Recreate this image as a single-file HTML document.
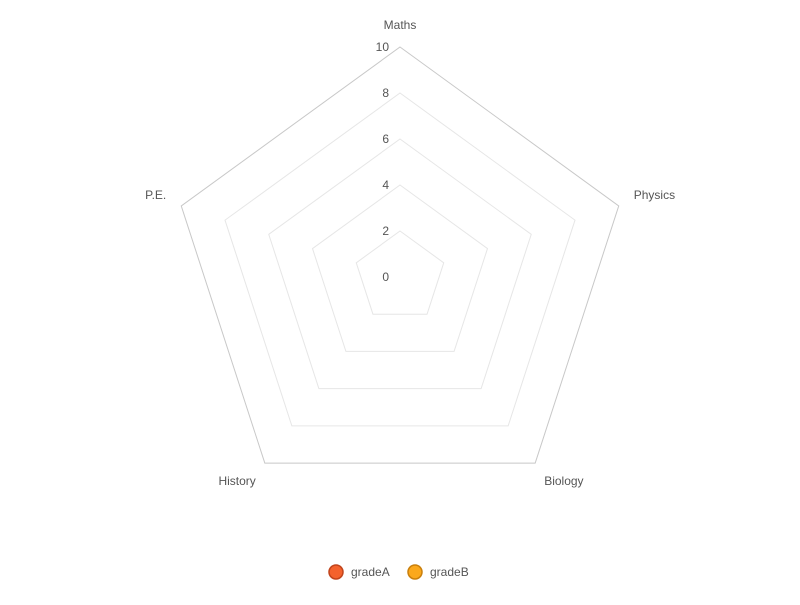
<!DOCTYPE html>
<html><head><meta charset="utf-8"><style>
html,body{margin:0;padding:0;background:#fff;}
svg text{font-family:"Liberation Sans",sans-serif;font-size:12px;fill:#555;}
</style></head><body>
<svg id="chart" width="800" height="600"></svg>
<script>
const categories = ["Maths","Physics","Biology","History","P.E."];
const gradeA = [0,0,0,0,0];
const gradeB = [0,0,0,0,0];
const ticks = [0,2,4,6,8,10];
const seriesNames = ["gradeA","gradeB"];
const NS="http://www.w3.org/2000/svg";
const svg=document.getElementById('chart');
const cx=400, cy=277, R=230, maxV=10;
function rScale(v){return v/maxV*R;}
function pt(i,v){const a=-Math.PI/2+i*2*Math.PI/categories.length;return [cx+rScale(v)*Math.cos(a),cy+rScale(v)*Math.sin(a)];}
function mk(tag,attrs){const e=document.createElementNS(NS,tag);for(const k in attrs)e.setAttribute(k,attrs[k]);svg.appendChild(e);return e;}
ticks.forEach((t,ti)=>{
  if(t>0){
    const p=categories.map((c,i)=>pt(i,t).join(',')).join(' ');
    const g=mk('polygon',{points:p,fill:'none',stroke:t===maxV?'#c8c8c8':'#e6e6e6','stroke-width':1});
    
    
  }
  const tx=mk('text',{x:cx-11,y:cy-rScale(t)+4,'text-anchor':'end'});
  tx.textContent=t;
  
  
});
const anchors=['middle','start','start','end','end'];
const offs=[[0,-22],[15,-11],[9,18],[-9,18],[-15,-11]];
categories.forEach((c,i)=>{
  const [x,y]=pt(i,maxV);
  const t=mk('text',{x:x+offs[i][0],y:y+offs[i][1]+4,'text-anchor':anchors[i]});
  t.textContent=c;
  
  
});
const colors=[['#f4622d','#c0441c'],['#fba81b','#c97f0c']];
[gradeA,gradeB].forEach((s,si)=>{
  const p=s.map((v,i)=>pt(i,v).join(',')).join(' ');
  const poly=mk('polygon',{points:p,fill:colors[si][0],'fill-opacity':0.4,stroke:colors[si][0],'stroke-width':2});
  
  
});
const lx=[336,415];
seriesNames.forEach((n,i)=>{
  const c=mk('circle',{cx:lx[i],cy:572,r:7,fill:colors[i][0],stroke:colors[i][1],'stroke-width':1.5});
  
  
  const t=mk('text',{x:lx[i]+15,y:576});
  t.textContent=n;
  
  
});
</script>
</body></html>
